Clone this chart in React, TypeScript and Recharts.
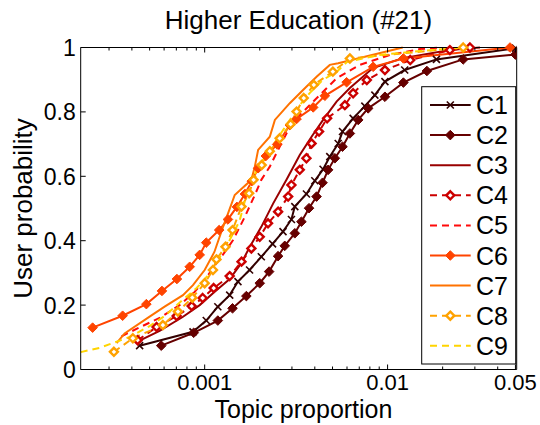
import { Line, LineChart, XAxis, YAxis } from 'recharts'

// CDF points per topic cluster: [topic proportion, user probability]
const c1 = [
  [0.000441, 0.074], [0.000863, 0.117], [0.00102, 0.152], [0.00118, 0.195], [0.00137, 0.231],
  [0.00152, 0.273], [0.00176, 0.309], [0.00204, 0.35], [0.00235, 0.39], [0.00268, 0.428],
  [0.00298, 0.466], [0.00311, 0.506], [0.0036, 0.545], [0.004, 0.586], [0.00444, 0.622],
  [0.00483, 0.661], [0.00537, 0.702], [0.00567, 0.739], [0.00648, 0.78], [0.00751, 0.818],
  [0.00852, 0.852], [0.00967, 0.894], [0.0124, 0.93], [0.0185, 0.963], [0.05, 0.998],
]
const c2 = [
  [0.000579, 0.074], [0.000871, 0.114], [0.00118, 0.152], [0.00142, 0.19], [0.00169, 0.228],
  [0.002, 0.268], [0.00225, 0.304], [0.00252, 0.352], [0.00274, 0.384], [0.00311, 0.423],
  [0.00338, 0.459], [0.00372, 0.501], [0.00409, 0.537], [0.00441, 0.58], [0.00473, 0.62],
  [0.00515, 0.656], [0.00567, 0.692], [0.00622, 0.733], [0.00691, 0.775], [0.00783, 0.811],
  [0.00967, 0.847], [0.0122, 0.891], [0.0164, 0.927], [0.0259, 0.963], [0.05, 0.978],
]
const c3 = [
  [0.000424, 0.085], [0.000567, 0.12], [0.000758, 0.163], [0.000939, 0.2], [0.00113, 0.241],
  [0.00137, 0.281], [0.00159, 0.331], [0.00176, 0.38], [0.00204, 0.443], [0.00237, 0.516],
  [0.0028, 0.589], [0.00331, 0.666], [0.00384, 0.723], [0.00444, 0.775], [0.00526, 0.832],
  [0.00622, 0.874], [0.00831, 0.936], [0.0121, 0.967], [0.0219, 0.992], [0.032, 1.0],
]
const c4 = [
  [0.00043, 0.091], [0.000546, 0.132], [0.000703, 0.166], [0.000849, 0.197], [0.000975, 0.222],
  [0.00112, 0.253], [0.00137, 0.29], [0.00159, 0.335], [0.0018, 0.376], [0.002, 0.412],
  [0.00222, 0.454], [0.00252, 0.49], [0.00286, 0.537], [0.00298, 0.573], [0.00331, 0.62],
  [0.0036, 0.656], [0.00384, 0.702], [0.00422, 0.739], [0.00467, 0.78], [0.00584, 0.821],
  [0.00648, 0.858], [0.0077, 0.899], [0.00967, 0.93], [0.0133, 0.961], [0.0219, 0.992], [0.0282, 1.0],
]
const c5 = [
  [0.000351, 0.103], [0.000441, 0.131], [0.000567, 0.16], [0.00073, 0.2], [0.000882, 0.241],
  [0.001, 0.278], [0.00113, 0.321], [0.00129, 0.365], [0.00143, 0.402], [0.00166, 0.475],
  [0.00188, 0.542], [0.00204, 0.589], [0.00227, 0.63], [0.00252, 0.682], [0.0028, 0.733],
  [0.00331, 0.79], [0.004, 0.837], [0.00526, 0.904], [0.00705, 0.946], [0.0103, 0.977],
  [0.015, 0.995], [0.0193, 1.0],
]
const c6 = [
  [0.000244, 0.13], [0.000356, 0.167], [0.00048, 0.203], [0.000584, 0.244], [0.000705, 0.281],
  [0.000828, 0.319], [0.000939, 0.356], [0.00102, 0.394], [0.0012, 0.433], [0.00134, 0.466],
  [0.0015, 0.505], [0.00166, 0.545], [0.00181, 0.585], [0.00196, 0.625], [0.00216, 0.663],
  [0.00249, 0.699], [0.00292, 0.759], [0.00318, 0.778], [0.00392, 0.814], [0.00454, 0.85],
  [0.00597, 0.892], [0.00834, 0.94], [0.0122, 0.966], [0.0467, 1.0],
]
const c7 = [
  [0.00033, 0.082], [0.000365, 0.112], [0.0005, 0.164], [0.000604, 0.195], [0.000761, 0.231],
  [0.000863, 0.262], [0.001, 0.309], [0.00113, 0.365], [0.00126, 0.443], [0.00135, 0.489],
  [0.00146, 0.542], [0.0018, 0.589], [0.00188, 0.63], [0.00196, 0.682], [0.00227, 0.723],
  [0.00242, 0.775], [0.00292, 0.827], [0.00345, 0.868], [0.00409, 0.909], [0.00483, 0.946],
  [0.00537, 0.951], [0.0121, 1.0],
]
const c8 = [
  [0.000319, 0.055], [0.000405, 0.097], [0.000591, 0.138], [0.000714, 0.18], [0.000856, 0.223],
  [0.001, 0.268], [0.00111, 0.309], [0.00116, 0.342], [0.0013, 0.381], [0.00142, 0.433],
  [0.00159, 0.506], [0.00175, 0.547], [0.00185, 0.589], [0.00205, 0.635], [0.00227, 0.678],
  [0.00257, 0.718], [0.00295, 0.762], [0.00318, 0.801], [0.00348, 0.843], [0.00395, 0.884],
  [0.00502, 0.925], [0.00622, 0.966], [0.0259, 1.0],
]
const c9 = [
  [0.00021, 0.054], [0.000266, 0.067], [0.000389, 0.101], [0.0005, 0.135], [0.000604, 0.166],
  [0.000758, 0.216], [0.000904, 0.253], [0.00107, 0.3], [0.00121, 0.349], [0.00137, 0.402],
  [0.00155, 0.461], [0.00172, 0.557], [0.00195, 0.626], [0.00227, 0.682], [0.00292, 0.775],
  [0.00331, 0.821], [0.00376, 0.859], [0.00442, 0.899], [0.00528, 0.925], [0.00599, 0.955],
  [0.00908, 0.977], [0.015, 0.989], [0.0264, 1.0],
]

const seriesNames = ['C1', 'C2', 'C3', 'C4', 'C5', 'C6', 'C7', 'C8', 'C9']
const seriesData = [c1, c2, c3, c4, c5, c6, c7, c8, c9]
const colors = ['#330000', '#660000', '#990000', '#cc0000', '#ff0a0a', '#ff4400', '#ff7200', '#ffa200', '#ffd400']
const dashed = [false, false, false, true, true, false, false, true, true]
const markers = ['x', 'filled', 'none', 'hollow', 'none', 'filled', 'none', 'hollow', 'none']

const xTicks = [
  0.0003, 0.0004, 0.0005, 0.0006, 0.0007, 0.0008, 0.0009, 0.001,
  0.002, 0.003, 0.004, 0.005, 0.006, 0.007, 0.008, 0.009, 0.01,
  0.02, 0.03, 0.04, 0.05,
]
const xMajor = [0.001, 0.01, 0.05]
const yTicks = [0, 0.2, 0.4, 0.6, 0.8, 1]

const FONT = '"Liberation Sans", Arial, Helvetica, sans-serif'
const W = 540
const H = 425
// plot box: x 80.7..516.7, y 47.5..369.5 (axes take 40/30/1/1 px of it)
const margin = { top: 46.5, right: 22.3, bottom: 25.5, left: 40.7 }

const Marker = ({ kind, cx, cy, color }: { kind: string; cx: number; cy: number; color: string }) => {
  if (kind === 'x') {
    const s = 3.5
    return (
      <g stroke={color} strokeWidth={1.6}>
        <line x1={cx - s} y1={cy - s} x2={cx + s} y2={cy + s} />
        <line x1={cx - s} y1={cy + s} x2={cx + s} y2={cy - s} />
      </g>
    )
  }
  if (kind === 'filled') {
    const s = 4.8
    return <path d={`M${cx},${cy - s}L${cx + s},${cy}L${cx},${cy + s}L${cx - s},${cy}Z`} fill={color} stroke={color} strokeWidth={1} />
  }
  if (kind === 'hollow') {
    const s = 4
    return <path d={`M${cx},${cy - s}L${cx + s},${cy}L${cx},${cy + s}L${cx - s},${cy}Z`} fill="#fff" stroke={color} strokeWidth={2.4} />
  }
  return null
}

const fmtX = (v: number) => (v === 0.001 ? '0.001' : v === 0.01 ? '0.01' : '0.05')

const BottomTick = (props: any) => {
  const { x, y, payload } = props
  const major = xMajor.includes(payload.value)
  return (
    <g>
      <line x1={x} x2={x} y1={y} y2={y - (major ? 5 : 3)} stroke="#000" />
      {major && (
        <text x={x} y={y + 20.5} textAnchor="middle" fontSize={22} fontFamily={FONT} fill="#000">
          {fmtX(payload.value)}
        </text>
      )}
    </g>
  )
}

const TopTick = (props: any) => {
  const { x, y, payload } = props
  const major = xMajor.includes(payload.value)
  return <line x1={x} x2={x} y1={y} y2={y + (major ? 5 : 3)} stroke="#000" />
}

const LeftTick = (props: any) => {
  const { x, y, payload } = props
  return (
    <g>
      <line x1={x} x2={x + 5} y1={y} y2={y} stroke="#000" />
      <text x={x - 5} y={y + 8.5} textAnchor="end" fontSize={23} fontFamily={FONT} fill="#000">
        {String(payload.value)}
      </text>
    </g>
  )
}

const RightTick = (props: any) => {
  const { x, y } = props
  return <line x1={x} x2={x - 5} y1={y} y2={y} stroke="#000" />
}

const Overlay = () => (
  <svg width={W} height={H} style={{ position: 'absolute', left: 0, top: 0, pointerEvents: 'none' }}>
    <text x={298.5} y={29} textAnchor="middle" fontSize={26} fontFamily={FONT} fill="#000">
      Higher Education (#21)
    </text>
    <text x={303.5} y={418} textAnchor="middle" fontSize={25} fontFamily={FONT} fill="#000">
      Topic proportion
    </text>
    <text
      x={0}
      y={0}
      transform="translate(32,208.5) rotate(-90)"
      textAnchor="middle"
      fontSize={26}
      fontFamily={FONT}
      fill="#000"
    >
      User probability
    </text>
    <rect x={421.7} y={86.7} width={94} height={277.3} fill="#fff" stroke="#000" strokeWidth={1} />
    {seriesNames.map((name, i) => {
      const cy = 105 + i * 30.1
      return (
        <g key={name}>
          <line
            x1={430}
            x2={470.7}
            y1={cy}
            y2={cy}
            stroke={colors[i]}
            strokeWidth={2}
            strokeDasharray={dashed[i] ? '7 5' : undefined}
          />
          <Marker kind={markers[i]} cx={450.3} cy={cy} color={colors[i]} />
          <text x={476} y={cy + 9} fontSize={25} fontFamily={FONT} fill="#000">
            {name}
          </text>
        </g>
      )
    })}
  </svg>
)

const App = () => {
  return (
    <div style={{ position: 'absolute', left: 0, top: 0, width: W, height: H, background: '#fff', fontFamily: FONT }}>
      <LineChart width={W} height={H} margin={margin}>
        <XAxis
          xAxisId="bottom"
          type="number"
          dataKey="x"
          scale="log"
          domain={[0.00021, 0.0508]}
          allowDataOverflow
          ticks={xTicks}
          interval={0}
          height={30}
          tickSize={0}
          tickMargin={0}
          tickLine={false}
          axisLine={{ stroke: '#000' }}
          tick={<BottomTick />}
        />
        <XAxis
          xAxisId="top"
          orientation="top"
          type="number"
          dataKey="x"
          scale="log"
          domain={[0.00021, 0.0508]}
          allowDataOverflow
          ticks={xTicks}
          interval={0}
          height={1}
          tickSize={0}
          tickMargin={0}
          tickLine={false}
          axisLine={{ stroke: '#000' }}
          tick={<TopTick />}
        />
        <YAxis
          yAxisId="left"
          type="number"
          domain={[0, 1]}
          ticks={yTicks}
          interval={0}
          width={40}
          tickSize={0}
          tickMargin={0}
          tickLine={false}
          axisLine={{ stroke: '#000' }}
          tick={<LeftTick />}
        />
        <YAxis
          yAxisId="right"
          orientation="right"
          type="number"
          domain={[0, 1]}
          ticks={yTicks}
          interval={0}
          width={1}
          tickSize={0}
          tickMargin={0}
          tickLine={false}
          axisLine={{ stroke: '#000' }}
          tick={<RightTick />}
        />
        {seriesData.map((pts, i) => (
          <Line
            key={seriesNames[i]}
            xAxisId="bottom"
            yAxisId="left"
            data={pts.map(([x, y]) => ({ x, y }))}
            dataKey="y"
            type="linear"
            stroke={colors[i]}
            strokeWidth={2}
            strokeDasharray={dashed[i] ? '7 5' : undefined}
            dot={(p: any) => <Marker key={`${i}-${p.index}`} kind={markers[i]} cx={p.cx} cy={p.cy} color={colors[i]} />}
            activeDot={false}
            isAnimationActive={false}
          />
        ))}
      </LineChart>
      <Overlay />
    </div>
  )
}

export default App
